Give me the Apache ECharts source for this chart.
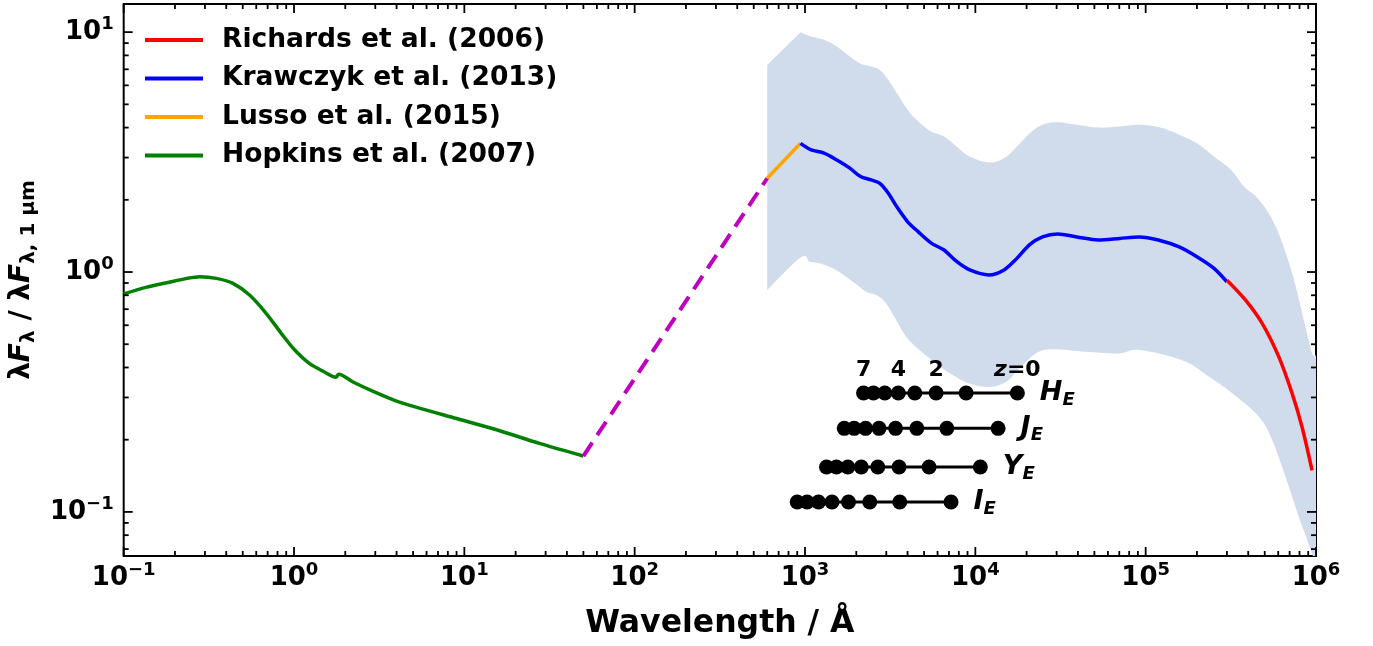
<!DOCTYPE html>
<html><head><meta charset="utf-8">
<script src="https://cdn.jsdelivr.net/npm/echarts@6/dist/echarts.min.js"></script>
<style>html,body{margin:0;padding:0;background:#fff}#c{width:1373px;height:646px}</style>
</head><body><div id="c"></div>
<script>
// ---- data (wavelength in Å, flux ratio) ----
const hopkinsWave = [0.1, 0.135, 0.179, 0.236, 0.280, 0.350, 0.438, 0.548, 0.686, 0.857, 1.01, 1.23, 1.50, 1.76, 1.83, 2.22, 2.94, 3.89, 5.14, 9.0, 15.8, 27.6, 50];
const hopkinsFlux = [0.81, 0.863, 0.902, 0.941, 0.956, 0.941, 0.897, 0.802, 0.673, 0.546, 0.473, 0.416, 0.384, 0.364, 0.375, 0.348, 0.317, 0.292, 0.274, 0.245, 0.219, 0.193, 0.171];
const bridgeWave = [50, 600];
const bridgeFlux = [0.171, 2.46];
const lussoWave = [600, 941];
const lussoFlux = [2.46, 3.44];
const krawczykWave = [941, 1087, 1294, 1538, 1832, 2118, 2447, 2749, 3083, 3461, 4006, 4625, 5508, 6546, 7796, 9270, 12020, 14730, 17530, 20850, 24780, 30400, 39450, 52700, 70450, 91400, 118600, 158500, 199900, 251800, 299700];
const krawczykFlux = [3.44, 3.23, 3.13, 2.93, 2.71, 2.50, 2.42, 2.34, 2.13, 1.87, 1.62, 1.47, 1.32, 1.235, 1.104, 1.02, 0.972, 1.02, 1.14, 1.30, 1.40, 1.44, 1.40, 1.36, 1.38, 1.40, 1.36, 1.27, 1.158, 1.036, 0.911];
const richardsWave = [300000, 386000, 483000, 605000, 724000, 828000, 948000];
const richardsFlux = [0.925, 0.764, 0.611, 0.443, 0.312, 0.226, 0.149];
const bandUpperWave = [600, 941, 1087, 1294, 1538, 1832, 2118, 2447, 2749, 3083, 3461, 4006, 4625, 5508, 6546, 7796, 9270, 12020, 14730, 17530, 20850, 24780, 30400, 39450, 52700, 70450, 91400, 118600, 158500, 199900, 251800, 317600, 377500, 462000, 579000, 724000, 867000, 949000, 1000000];
const bandUpperFlux = [7.30, 10.0, 9.59, 9.29, 8.71, 7.91, 7.38, 7.19, 6.96, 6.32, 5.57, 4.74, 4.24, 3.85, 3.67, 3.33, 3.03, 2.86, 2.98, 3.33, 3.79, 4.11, 4.21, 4.11, 4.00, 4.04, 4.11, 4.02, 3.73, 3.44, 3.03, 2.66, 2.27, 2.00, 1.55, 0.988, 0.591, 0.458, 0.45];
const bandLowerWave = [600, 941, 1064, 1218, 1526, 1909, 2287, 2618, 2999, 3428, 3926, 4698, 5887, 7366, 9227, 12080, 15140, 18110, 22690, 28380, 44540, 69830, 91400, 164100, 235500, 322400, 462000, 553000, 662000, 793000, 948000, 1000000];
const bandLowerFlux = [0.841, 1.15, 1.104, 1.087, 1.02, 0.911, 0.828, 0.802, 0.740, 0.631, 0.537, 0.473, 0.416, 0.372, 0.343, 0.332, 0.348, 0.396, 0.458, 0.476, 0.465, 0.458, 0.473, 0.429, 0.366, 0.312, 0.249, 0.199, 0.140, 0.0953, 0.0672, 0.058];
const redshifts = [0, 1, 2, 3, 4, 5, 6, 7];
const filterNames = ['H', 'J', 'Y', 'I'];
const filterWave = [17650, 13600, 10700, 7200];
const filterLevel = [0.313, 0.223, 0.154, 0.110];
const redshiftTickZ = [7, 4, 2, 0];
const redshiftTickText = ['7', '4', '2', '{i|z}{n|=0}'];
const legendNames = ['Richards et al. (2006)', 'Krawczyk et al. (2013)', 'Lusso et al. (2015)', 'Hopkins et al. (2007)'];
const xMin = 0.1, xMax = 1e6, yMin = 0.0655, yMax = 13.1;

// ---- build ----
const FF = 'DejaVu Sans';
const zip = (a, b) => a.map((v, i) => [v, b[i]]);
function powLabel(v) {
  const l = Math.log10(v), n = Math.round(l);
  if (Math.abs(l - n) > 1e-6) return '';
  return '{b|10}{s|' + (n < 0 ? '\u2212' + (-n) : n) + '}';
}
const labelRich = {
  b: {fontSize: 26, fontWeight: 'bold', fontFamily: FF, color: '#000'},
  s: {fontSize: 18, fontWeight: 'bold', fontFamily: FF, color: '#000', padding: [0, 0, 16, 0]}
};
const ticks = [];
for (let e = -1; e <= 6; e++) for (let m = 1; m <= 9; m++) {
  const v = m * Math.pow(10, e);
  if (v >= xMin * 0.999 && v <= xMax * 1.001) ticks.push([v, 1, 0, m === 1 ? 1 : 0]);
}
for (let e = -2; e <= 1; e++) for (let m = 1; m <= 9; m++) {
  const v = m * Math.pow(10, e);
  if (v >= yMin && v <= yMax) ticks.push([1, v, 1, m === 1 ? 1 : 0]);
}
const series = [];
series.push({
  type: 'custom', name: 'band', silent: true, z: 1, data: [[1, 1]],
  renderItem: (params, api) => {
    const up = bandUpperWave.map((w, i) => api.coord([w, bandUpperFlux[i]]));
    const lo = bandLowerWave.map((w, i) => api.coord([w, bandLowerFlux[i]]));
    const cs = params.coordSys;
    const clip = {type: 'rect', shape: {x: cs.x, y: cs.y, width: cs.width, height: cs.height}};
    function curve(pts) {
      let d = 'L' + pts[0][0] + ',' + pts[0][1];
      const t = 0.18;
      for (let i = 0; i < pts.length - 1; i++) {
        const p0 = pts[Math.max(i - 1, 0)], p1 = pts[i], p2 = pts[i + 1], p3 = pts[Math.min(i + 2, pts.length - 1)];
        const c1 = [p1[0] + (p2[0] - p0[0]) * t, p1[1] + (p2[1] - p0[1]) * t];
        const c2 = [p2[0] - (p3[0] - p1[0]) * t, p2[1] - (p3[1] - p1[1]) * t];
        d += 'C' + c1[0] + ',' + c1[1] + ',' + c2[0] + ',' + c2[1] + ',' + p2[0] + ',' + p2[1];
      }
      return d;
    }
    const d = 'M' + up[0][0] + ',' + up[0][1] + curve(up.slice(1)) + curve(lo.slice().reverse()) + 'Z';
    return {type: 'path', shape: {pathData: d}, style: {fill: '#d0dceb'}, clipPath: clip};
  }
});
function lineSeries(name, w, f, color, width, extra) {
  return Object.assign({
    type: 'line', name: name, data: zip(w, f), symbol: 'none', showSymbol: false, smooth: 0.3,
    lineStyle: {color: color, width: width}, itemStyle: {color: color}, z: 3, silent: true
  }, extra || {});
}
series.push(lineSeries('Hopkins et al. (2007)', hopkinsWave, hopkinsFlux, '#008000', 3.5));
series.push(lineSeries('extrapolation', bridgeWave, bridgeFlux, '#bf00bf', 4, {smooth: false, lineStyle: {color: '#bf00bf', width: 4, type: [16, 9]}}));
series.push(lineSeries('Lusso et al. (2015)', lussoWave, lussoFlux, '#ffa500', 3.5, {smooth: false}));
series.push(lineSeries('Krawczyk et al. (2013)', krawczykWave, krawczykFlux, '#0000ff', 3.5));
series.push(lineSeries('Richards et al. (2006)', richardsWave, richardsFlux, '#ff0000', 3.5));
filterNames.forEach((fn, k) => {
  const data = redshifts.map(z => {
    const item = {value: [filterWave[k] / (1 + z), filterLevel[k]]};
    if (k === 0) {
      const idx = redshiftTickZ.indexOf(z);
      if (idx >= 0) item.label = {show: true, position: 'top', distance: 4, formatter: redshiftTickText[idx],
        fontSize: 22, fontWeight: 'bold', fontFamily: FF, color: '#000',
        rich: {i: {fontSize: 22, fontWeight: 'bold', fontStyle: 'italic', fontFamily: FF, color: '#000'},
               n: {fontSize: 22, fontWeight: 'bold', fontFamily: FF, color: '#000'}}};
    }
    return item;
  });
  series.push({type: 'line', name: fn + '_E', data: data, symbol: 'circle', symbolSize: 15, showSymbol: true,
    lineStyle: {color: '#000', width: 3}, itemStyle: {color: '#000'}, z: 4, silent: true});
  series.push({type: 'scatter', name: fn + '_E label', data: [[filterWave[k], filterLevel[k]]], symbolSize: 1,
    itemStyle: {color: '#000', opacity: 0}, z: 5, silent: true,
    label: {show: true, position: 'right', distance: 22, formatter: '{i|' + fn + '}{e|E}',
      color: '#000', fontWeight: 'bold', fontSize: 27, fontFamily: FF, textBorderWidth: 0, opacity: 1,
      rich: {i: {fontSize: 27, fontWeight: 'bold', fontStyle: 'italic', fontFamily: FF, color: '#000'},
             e: {fontSize: 18, fontWeight: 'bold', fontStyle: 'italic', fontFamily: FF, color: '#000', padding: [14, 0, 0, 0]}}}});
});
series.push({
  type: 'custom', name: 'ticks', silent: true, z: 10, data: ticks,
  encode: {x: 0, y: 1},
  renderItem: (params, api) => {
    const cs = params.coordSys;
    const isY = api.value(2), major = api.value(3);
    const L = major ? 9 : 5;
    const st = {stroke: '#000', lineWidth: 1.8};
    if (!isY) {
      const x = api.coord([api.value(0), 1])[0];
      return {type: 'group', children: [
        {type: 'line', shape: {x1: x, y1: cs.y + cs.height, x2: x, y2: cs.y + cs.height - L}, style: st},
        {type: 'line', shape: {x1: x, y1: cs.y, x2: x, y2: cs.y + L}, style: st}]};
    }
    const y = api.coord([1, api.value(1)])[1];
    return {type: 'group', children: [
      {type: 'line', shape: {x1: cs.x, y1: y, x2: cs.x + L, y2: y}, style: st},
      {type: 'line', shape: {x1: cs.x + cs.width, y1: y, x2: cs.x + cs.width - L, y2: y}, style: st}]};
  }
});

const option = {
  animation: false,
  backgroundColor: '#fff',
  grid: {left: 123, right: 57, top: 4, bottom: 90, show: true, borderColor: '#000', borderWidth: 2, backgroundColor: 'transparent'},
  legend: {
    data: legendNames.map(n => ({name: n, icon: 'rect'})),
    orient: 'vertical', left: 145, top: 25, padding: 0, itemWidth: 58, itemHeight: 4, itemGap: 8.5,
    textStyle: {fontSize: 26.5, fontWeight: 'bold', fontFamily: FF, color: '#000', lineHeight: 30, padding: [0, 0, 0, 14]},
    selectedMode: false
  },
  xAxis: {
    type: 'log', logBase: 10, min: xMin, max: xMax,
    name: 'Wavelength / \u00c5', nameLocation: 'middle', nameGap: 52,
    nameTextStyle: {fontSize: 31.5, fontWeight: 'bold', fontFamily: FF, color: '#000'},
    axisLine: {show: false}, axisTick: {show: false}, splitLine: {show: false}, minorTick: {show: false},
    axisLabel: {margin: 5, formatter: powLabel, rich: labelRich, color: '#000'}
  },
  yAxis: {
    type: 'log', logBase: 10, min: yMin, max: yMax,
    name: '{m|\u03bb}{i|F}{s|\u03bb}{m| / \u03bb}{i|F}{s|\u03bb, 1 \u00b5m}', nameLocation: 'middle', nameGap: 80, nameRotate: 90,
    nameTextStyle: {fontSize: 28, fontWeight: 'bold', fontFamily: FF, color: '#000',
      rich: {m: {fontSize: 28, fontWeight: 'bold', fontFamily: FF, color: '#000'},
             i: {fontSize: 28, fontWeight: 'bold', fontStyle: 'italic', fontFamily: FF, color: '#000'},
             s: {fontSize: 20, fontWeight: 'bold', fontFamily: FF, color: '#000', padding: [14, 0, 0, 0]}}},
    axisLine: {show: false}, axisTick: {show: false}, splitLine: {show: false}, minorTick: {show: false},
    axisLabel: {margin: 10, formatter: powLabel, rich: labelRich, color: '#000'}
  },
  series: series
};
const chart = echarts.init(document.getElementById('c'), null, {renderer: 'canvas'});
chart.setOption(option);
</script></body></html>
